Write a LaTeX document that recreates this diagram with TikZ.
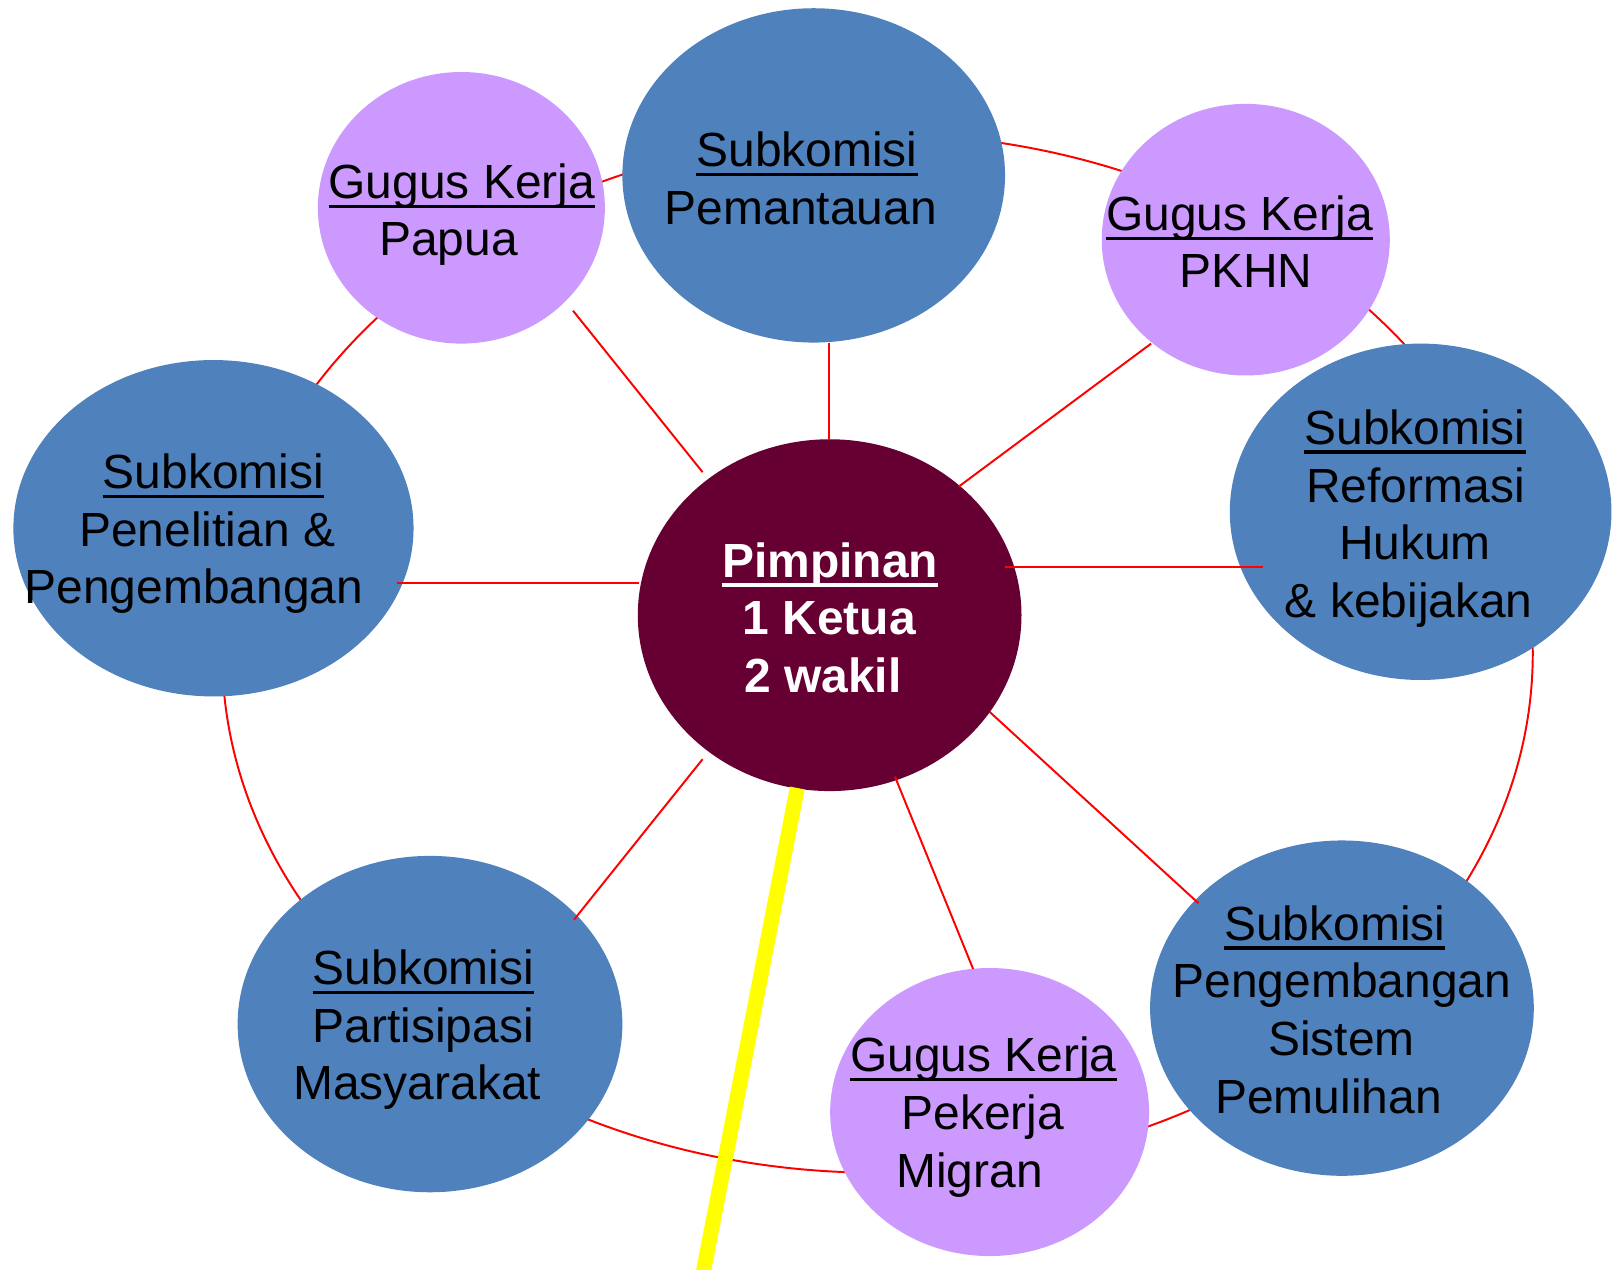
\documentclass[tikz,border=0pt]{standalone}
\usepackage{fontspec}
\setmainfont{Liberation Sans}
\usetikzlibrary{shapes.geometric}
\definecolor{nodeblue}{HTML}{4F81BD}
\definecolor{nodepurple}{HTML}{CC99FF}
\definecolor{maroon}{HTML}{660033}
\definecolor{ringred}{HTML}{FF0000}
\definecolor{yelline}{HTML}{FFFF00}
\newsavebox\ulbox
\newcommand\ulx[1]{\sbox\ulbox{#1}\rlap{\rule[-9.3pt]{\wd\ulbox}{3.4pt}}\usebox\ulbox}
\tikzset{
  blob/.style={ellipse, inner sep=0pt, draw=none},
  subk/.style={blob, fill=nodeblue},
  gugus/.style={blob, fill=nodepurple},
  spoke/.style={draw=ringred, line width=1.9pt},
  ring/.style={draw=ringred, line width=1.9pt},
  txt/.style={anchor=base, inner sep=0pt, font=\fontsize{46.6}{56}\selectfont},
  wtxt/.style={txt, text=white, font=\fontsize{46.6}{56}\selectfont\bfseries},
}
\begin{document}
\begin{tikzpicture}[x=1pt,y=-1pt]
\useasboundingbox (0,0) rectangle (1568,1234);
\clip (0,0) rectangle (1568,1234);
\fill[white] (0,0) rectangle (1568,1234);
% outer ring
\draw[ring] (853,635) ellipse [x radius=637, y radius=505];
% nodes
\node[subk, minimum width=372pt, minimum height=325pt] (pem) at (791,170.5) {};
\node[gugus, minimum width=279pt, minimum height=264pt] (pap) at (448.5,202) {};
\node[gugus, minimum width=280pt, minimum height=264pt] (pkhn) at (1211,233) {};
\node[subk, minimum width=371pt, minimum height=327pt] (ref) at (1381,497.5) {};
\node[subk, minimum width=389pt, minimum height=327pt] (pen) at (207.5,513.5) {};
\node[blob, fill=maroon, minimum width=373pt, minimum height=342pt] (pim) at (806.5,598) {};
\node[subk, minimum width=374pt, minimum height=327pt] (par) at (418,995.5) {};
\node[gugus, minimum width=310pt, minimum height=280pt] (mig) at (962,1081) {};
\node[subk, minimum width=373pt, minimum height=326pt] (pul) at (1304.5,980) {};
% spoke end points
\coordinate (a1) at (806,428); \coordinate (b1) at (806,333);
\coordinate (a2) at (683,459); \coordinate (b2) at (557,302);
\coordinate (a3) at (932,473); \coordinate (b3) at (1119,334);
\coordinate (a4) at (977,551); \coordinate (b4) at (1228,551);
\coordinate (a5) at (621,567); \coordinate (b5) at (386,567);
\coordinate (a6) at (683,738); \coordinate (b6) at (558,894);
\coordinate (a7) at (870,755); \coordinate (b7) at (946,942);
\coordinate (a8) at (962,692); \coordinate (b8) at (1165,878);
\foreach \i in {1,...,8} { \draw[spoke] (a\i) -- (b\i); }
% yellow line
\coordinate (y1) at (775,766); \coordinate (y2) at (682,1245);
\draw[yelline, line width=14.6pt] (y1) -- (y2);
% texts
\node[txt] at (784.5,162) {\ulx{Subkomisi}};
\node[txt] at (778.5,218) {Pemantauan};
\node[txt] at (449,193) {\ulx{Gugus Kerja}};
\node[txt] at (436,248) {Papua};
\node[txt] at (1205,224) {\ulx{Gugus Kerja}};
\node[txt] at (1211,279) {PKHN};
\node[txt] at (1375.5,432) {\ulx{Subkomisi}};
\node[txt] at (1376,488) {Reformasi};
\node[txt] at (1375.5,544) {Hukum};
\node[txt] at (1369.5,600) {\& kebijakan};
\node[txt] at (207.5,475) {\ulx{Subkomisi}};
\node[txt] at (201.5,531) {Penelitian \&};
\node[txt] at (188.5,587) {Pengembangan};
\node[txt] at (411.5,957) {\ulx{Subkomisi}};
\node[txt] at (411.5,1013) {Partisipasi};
\node[txt] at (405.5,1069) {Masyarakat};
\node[txt] at (956,1042) {\ulx{Gugus Kerja}};
\node[txt] at (955.5,1098) {Pekerja};
\node[txt] at (942.5,1154) {Migran};
\node[txt] at (1297.5,914) {\ulx{Subkomisi}};
\node[txt] at (1304.5,970) {Pengembangan};
\node[txt] at (1304,1026) {Sistem};
\node[txt] at (1291.5,1082) {Pemulihan};
\node[wtxt] at (807,561) {\ulx{Pimpinan}};
\node[wtxt] at (806,617) {1 Ketua};
\node[wtxt] at (800,673) {2 wakil};
\end{tikzpicture}
\end{document}
